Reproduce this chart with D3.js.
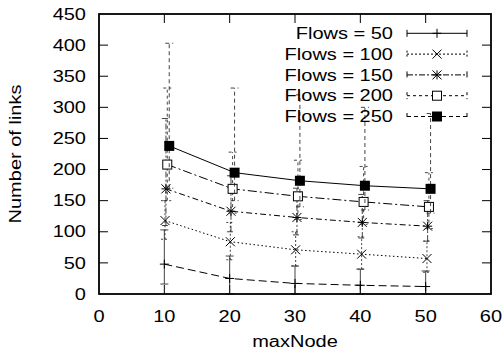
<!DOCTYPE html>
<html>
<head>
<meta charset="utf-8">
<script src="https://cdn.jsdelivr.net/npm/d3@7"></script>
<style>
  body { margin: 0; background: #fff; }
  svg { display: block; font-family: "Liberation Sans", Arial, sans-serif; }
</style>
</head>
<body>
<div id="chart"></div>
<script>
// series names
const seriesNames = ["Flows = 50", "Flows = 100", "Flows = 150", "Flows = 200", "Flows = 250"];
// x values (slightly jittered per series, as in the picture)
const x50  = [10, 20, 30, 40, 50];
const x100 = [10.1, 20.1, 30.1, 40.2, 50.2];
const x150 = [10.25, 20.2, 30.3, 40.3, 50.3];
const x200 = [10.45, 20.45, 30.45, 40.5, 50.5];
const x250 = [10.75, 20.75, 30.75, 40.7, 50.75];
// means
const y50  = [48, 25, 17, 14, 12];
const y100 = [118, 84, 71, 64, 57];
const y150 = [169, 133, 123, 115, 109];
const y200 = [208, 169, 157, 148, 140];
const y250 = [238, 195, 182, 174, 169];
// error bar ends
const lo50  = [16, 0, 0, 0, 0];
const hi50  = [103, 61, 45, 40, 37];
const lo100 = [88, 55, 45, 40, 35];
const hi100 = [150, 115, 100, 92, 85];
const lo150 = [110, 100, 95, 90, 85];
const hi150 = [282, 190, 170, 160, 150];
const lo200 = [150, 130, 120, 112, 105];
const hi200 = [331, 228, 215, 205, 195];
const lo250 = [170, 150, 140, 135, 130];
const hi250 = [403, 331, 320, 300, 290];

const xTicks = [0, 10, 20, 30, 40, 50, 60];
const yTicks = [0, 50, 100, 150, 200, 250, 300, 350, 400, 450];

const series = [
  {name: seriesNames[0], xs: x50,  ys: y50,  lo: lo50,  hi: hi50,  marker: "plus",   line: "8,4",     bar: null},
  {name: seriesNames[1], xs: x100, ys: y100, lo: lo100, hi: hi100, marker: "cross",  line: "1.5,2.5", bar: "2,2"},
  {name: seriesNames[2], xs: x150, ys: y150, lo: lo150, hi: hi150, marker: "star",   line: "6,3,2,3", bar: "6,2,2,2"},
  {name: seriesNames[3], xs: x200, ys: y200, lo: lo200, hi: hi200, marker: "square", line: "9,3,2,3", bar: "3,3"},
  {name: seriesNames[4], xs: x250, ys: y250, lo: lo250, hi: hi250, marker: "filled", line: null,      bar: "4,3"}
];

const width = 504, height = 357;
const plotL = 99, plotR = 491, plotT = 14, plotB = 294;
const fs = 16, stretch = 1.25; // the original font is drawn wide

const svg = d3.select("#chart").append("svg")
  .attr("width", width).attr("height", height);

const x = d3.scaleLinear().domain([0, 60]).range([plotL, plotR]);
const y = d3.scaleLinear().domain([0, 450]).range([plotB, plotT]);

function label(g, tx, ty, anchor, str, rot) {
  return g.append("text")
    .attr("transform", `translate(${tx},${ty})${rot ? " rotate(-90)" : ""} scale(${stretch},1)`)
    .attr("text-anchor", anchor).attr("font-size", fs).text(str);
}

// ticks, mirrored inward on all sides
const tickLen = 9;
const tk = svg.append("g").attr("stroke", "#000").attr("stroke-width", 1);
xTicks.slice(1, -1).forEach(t => {
  tk.append("line").attr("x1", x(t)).attr("x2", x(t)).attr("y1", plotB).attr("y2", plotB - tickLen);
  tk.append("line").attr("x1", x(t)).attr("x2", x(t)).attr("y1", plotT).attr("y2", plotT + tickLen);
});
yTicks.slice(1, -1).forEach(t => {
  tk.append("line").attr("x1", plotL).attr("x2", plotL + tickLen).attr("y1", y(t)).attr("y2", y(t));
  tk.append("line").attr("x1", plotR).attr("x2", plotR - tickLen).attr("y1", y(t)).attr("y2", y(t));
});

// tick labels
const labels = svg.append("g");
xTicks.forEach(t => label(labels, x(t), 322, "middle", t));
yTicks.forEach(t => label(labels, 86, y(t) + 5.7, "end", t));

label(svg, (plotL + plotR) / 2, 347, "middle", "maxNode");
label(svg, 20.5, (plotT + plotB) / 2, "middle", "Number of links", true);

function drawMarker(g, type, cx, cy) {
  const s = 4.5;
  if (type === "plus") {
    g.append("path").attr("d", `M${cx - s},${cy}H${cx + s}M${cx},${cy - s}V${cy + s}`)
      .attr("stroke", "#000").attr("fill", "none");
  } else if (type === "cross") {
    g.append("path").attr("d", `M${cx - s},${cy - s}L${cx + s},${cy + s}M${cx - s},${cy + s}L${cx + s},${cy - s}`)
      .attr("stroke", "#000").attr("fill", "none");
  } else if (type === "star") {
    g.append("path").attr("d", `M${cx - s},${cy}H${cx + s}M${cx},${cy - s}V${cy + s}M${cx - s},${cy - s}L${cx + s},${cy + s}M${cx - s},${cy + s}L${cx + s},${cy - s}`)
      .attr("stroke", "#000").attr("fill", "none");
  } else if (type === "square") {
    g.append("rect").attr("x", cx - 4.5).attr("y", cy - 4.5).attr("width", 9).attr("height", 9)
      .attr("stroke", "#000").attr("fill", "#fff");
  } else {
    g.append("rect").attr("x", cx - 5).attr("y", cy - 5).attr("width", 10).attr("height", 10)
      .attr("fill", "#000");
  }
}

const capW = 4;
series.forEach(s => {
  const g = svg.append("g");
  const pts = s.xs.map((v, i) => [x(v), y(s.ys[i])]);
  // connecting line
  g.append("path").attr("d", d3.line()(pts))
    .attr("fill", "none").attr("stroke", "#000").attr("stroke-width", 1)
    .attr("stroke-dasharray", s.line);
  // error bars
  s.xs.forEach((v, i) => {
    const cx = x(v), y1 = y(s.lo[i]), y2 = y(s.hi[i]);
    g.append("path")
      .attr("d", `M${cx},${y1}V${y2}M${cx - capW},${y1}H${cx + capW}M${cx - capW},${y2}H${cx + capW}`)
      .attr("fill", "none").attr("stroke", "#222").attr("stroke-width", 0.85)
      .attr("stroke-dasharray", s.bar);
  });
  pts.forEach(p => drawMarker(g, s.marker, p[0], p[1]));
});

// legend
const legRows = series.map((s, i) => ({s, cy: 33.3 + i * 20.8}));
const leg = svg.append("g");
legRows.forEach(r => {
  label(leg, 393, r.cy + 5.7, "end", r.s.name);
  leg.append("path")
    .attr("d", `M407,${r.cy}H467M407,${r.cy - 3.5}V${r.cy + 3.5}M467,${r.cy - 3.5}V${r.cy + 3.5}`)
    .attr("fill", "none").attr("stroke", "#000").attr("stroke-width", 1)
    .attr("stroke-dasharray", r.s.bar);
  drawMarker(leg, r.s.marker, 437, r.cy);
});

// border
svg.append("rect").attr("x", plotL).attr("y", plotT)
  .attr("width", plotR - plotL).attr("height", plotB - plotT)
  .attr("fill", "none").attr("stroke", "#000").attr("stroke-width", 1.8);
</script>
</body>
</html>
